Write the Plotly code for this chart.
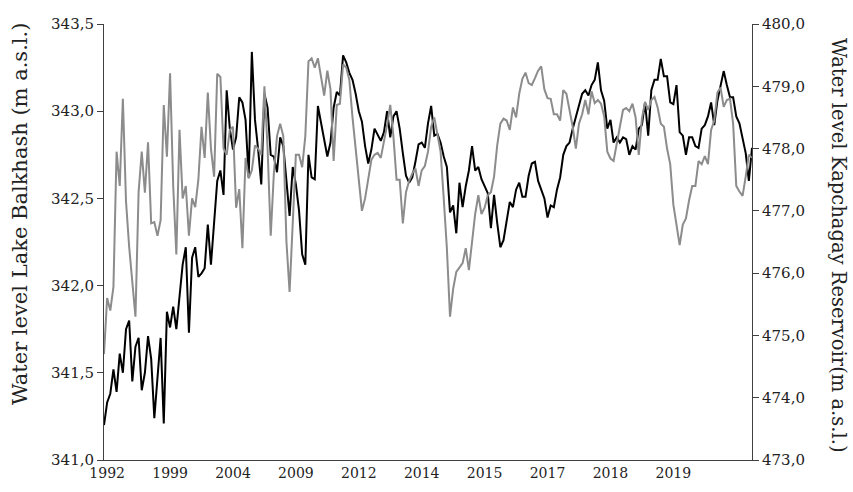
import plotly.graph_objects as go

year_labels = ["1992", "1999", "2004", "2009", "2012", "2014", "2015", "2017", "2018", "2019"]

balkhash = [
    341.20, 341.33, 341.38, 341.52, 341.39, 341.61, 341.50, 341.75, 341.80, 341.45,
    341.65, 341.70, 341.40, 341.50, 341.71, 341.58, 341.24, 341.48, 341.70, 341.21,
    341.85, 341.76, 341.88, 341.75, 341.96, 342.12, 342.22, 341.73, 342.16, 342.22,
    342.05, 342.07, 342.10, 342.35, 342.12, 342.37, 342.60, 342.66, 342.52, 343.12,
    342.90, 342.78, 342.85, 343.08, 343.05, 342.95, 342.62, 343.34, 342.95, 342.78,
    342.58, 343.10, 343.02, 342.75, 342.74, 342.65, 342.85, 342.80, 342.58, 342.40,
    342.68, 342.58, 342.43, 342.18, 342.12, 342.75, 342.62, 342.61, 343.03, 342.94,
    342.84, 342.74, 342.82, 343.02, 343.11, 343.09, 343.32, 343.28, 343.22, 343.18,
    343.10, 343.00, 342.94, 342.80, 342.70, 342.78, 342.90, 342.86, 342.83, 342.88,
    343.00, 342.85, 342.97, 343.00, 342.90, 342.76, 342.63, 342.59, 342.62, 342.71,
    342.81, 342.82, 342.79, 342.93, 343.03, 342.86, 342.87, 342.82, 342.74, 342.68,
    342.42, 342.46, 342.30, 342.59, 342.45, 342.57, 342.66, 342.80, 342.66, 342.68,
    342.61, 342.57, 342.53, 342.33, 342.52, 342.36, 342.22, 342.26, 342.38, 342.48,
    342.45, 342.55, 342.59, 342.51, 342.51, 342.63, 342.70, 342.71, 342.60, 342.55,
    342.50, 342.39, 342.46, 342.45, 342.55, 342.62, 342.75, 342.80, 342.82, 342.90,
    342.97, 343.03, 343.10, 343.12, 343.09, 343.15, 343.18, 343.28, 343.12, 343.06,
    342.90, 342.95, 342.82, 342.85, 342.82, 342.85, 342.84, 342.75, 342.80, 342.78,
    342.90, 342.92, 343.05, 342.86, 343.12, 343.18, 343.18, 343.30, 343.20, 343.20,
    343.05, 343.04, 343.15, 342.88, 342.86, 342.75, 342.85, 342.85, 342.80, 342.79,
    342.90, 342.92, 342.97, 343.05, 342.92, 343.06, 343.15, 343.23, 343.15, 343.08,
    343.08, 342.97, 342.93, 342.84, 342.76, 342.60, 342.79,
]

kapchagay = [
    474.70, 475.60, 475.40, 475.78, 477.95, 477.40, 478.80, 477.15, 476.42, 475.92,
    475.30, 477.30, 477.95, 477.29, 478.10, 476.80, 476.82, 476.60, 476.85, 478.70,
    477.87, 479.21, 477.40, 476.30, 478.30, 477.20, 477.40, 476.60, 477.20, 477.06,
    477.50, 478.35, 477.85, 478.90, 478.00, 477.55, 479.20, 479.15, 478.00, 477.90,
    478.30, 478.35, 477.05, 477.35, 476.40, 477.85, 477.52, 477.65, 478.05, 478.00,
    477.90, 479.00, 478.00, 476.60, 477.60, 478.20, 478.40, 478.20, 476.50, 475.70,
    476.75, 477.90, 477.90, 477.70, 478.20, 479.40, 479.45, 479.30, 479.45, 479.12,
    478.85, 479.25, 478.95, 477.80, 478.70, 478.72, 479.35, 479.30, 479.10, 478.50,
    478.00, 477.45, 477.00, 477.20, 477.55, 477.82, 477.90, 477.93, 477.85, 478.10,
    478.38, 478.70, 478.20, 477.50, 477.50, 476.80, 477.30, 477.48, 477.60, 477.68,
    477.40, 477.65, 477.72, 477.95, 478.35, 478.50, 478.20, 477.95, 477.20, 476.40,
    475.30, 475.75, 476.02, 476.10, 476.16, 476.40, 476.05, 476.50, 476.95, 477.25,
    476.95, 477.05, 477.25, 477.30, 477.55, 478.05, 478.40, 478.48, 478.45, 478.30,
    478.66, 478.50, 478.88, 479.12, 479.22, 479.05, 479.02, 479.13, 479.25, 479.32,
    478.95, 478.81, 478.80, 478.55, 478.55, 478.45, 478.94, 478.88, 478.60, 478.35,
    478.00, 478.40, 478.55, 478.78, 478.55, 478.92, 478.73, 478.78, 478.72, 478.52,
    477.95, 477.84, 477.80, 478.05, 478.35, 478.62, 478.65, 478.60, 478.72, 478.50,
    477.90, 478.48, 478.75, 478.62, 478.78, 478.83, 478.66, 478.40, 478.35, 478.00,
    477.75, 477.10, 476.75, 476.45, 476.78, 476.88, 477.17, 477.40, 477.40, 477.80,
    477.75, 477.88, 477.75, 478.30, 478.45, 478.90, 478.98, 478.67, 478.78, 478.80,
    478.40, 477.40, 477.31, 477.24, 477.55, 477.90, 477.85,
]

label_every = 20
idx = list(range(len(balkhash)))
tick_pos = [1 + label_every * k for k in range(len(year_labels))]

FONT = "DejaVu Serif"
AXIS_COL = "#404040"
TXT_COL = "#222222"

fig = go.Figure()
fig.add_trace(go.Scatter(x=idx, y=kapchagay, yaxis="y2", mode="lines",
                         line=dict(color="#8c8c8c", width=2), showlegend=False))
fig.add_trace(go.Scatter(x=idx, y=balkhash, yaxis="y", mode="lines",
                         line=dict(color="#000000", width=2), showlegend=False))

fig.update_layout(
    width=853, height=492,
    margin=dict(l=104, r=101, t=24, b=32, autoexpand=False),
    paper_bgcolor="white", plot_bgcolor="white",
    separators=", ",
    font=dict(family=FONT, size=15, color=TXT_COL),
    xaxis=dict(range=[0, len(idx) - 1], tickvals=tick_pos, ticktext=year_labels,
               showline=True, linecolor=AXIS_COL, linewidth=1, ticks="",
               showgrid=False, zeroline=False, tickfont=dict(size=14),
               automargin=False),
    yaxis=dict(range=[341, 343.5], dtick=0.5, tick0=341, tickformat=".1f",
               showline=True, linecolor=AXIS_COL, linewidth=1, ticks="outside",
               ticklen=6, tickcolor=AXIS_COL, showgrid=False, zeroline=False,
               tickfont=dict(size=15), automargin=False),
    yaxis2=dict(range=[473, 480], dtick=1, tick0=473, tickformat=".1f",
                overlaying="y", side="right",
                showline=True, linecolor=AXIS_COL, linewidth=1, ticks="outside",
                ticklen=6, tickcolor=AXIS_COL, showgrid=False, zeroline=False,
                tickfont=dict(size=15), automargin=False),
    annotations=[
        dict(text="Water level Lake Balkhash (m a.s.l.)", xref="paper", yref="paper",
             x=(20 - 104) / 648, y=(460 - 214) / 436, textangle=-90, showarrow=False,
             font=dict(family=FONT, size=21, color=TXT_COL),
             xanchor="center", yanchor="middle"),
        dict(text="Water level Kapchagay Reservoir(m a.s.l.)", xref="paper", yref="paper",
             x=(839 - 104) / 648, y=(460 - 245) / 436, textangle=90, showarrow=False,
             font=dict(family=FONT, size=19.5, color=TXT_COL),
             xanchor="center", yanchor="middle"),
    ],
)

fig.write_html("out.html", config={"displayModeBar": False},
               post_script="document.body.style.margin='0';document.body.style.padding='0';")
